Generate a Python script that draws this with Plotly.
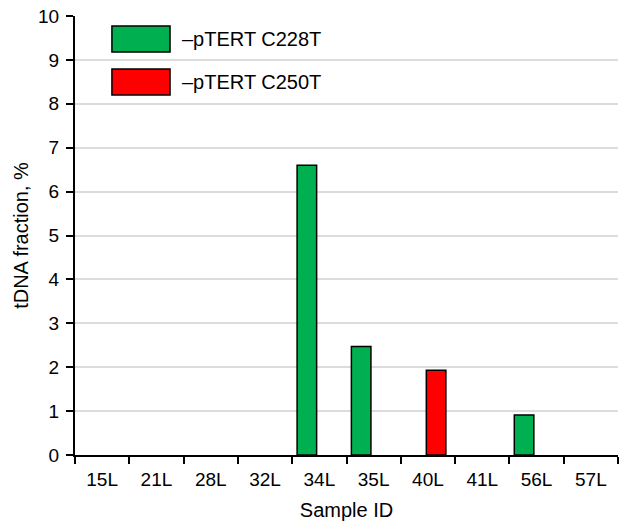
import plotly.graph_objects as go

samples = ["15L", "21L", "28L", "32L", "34L", "35L", "40L", "41L", "56L", "57L"]
c228t = [0, 0, 0, 0, 6.6, 2.47, 0, 0, 0.91, 0]
c250t = [0, 0, 0, 0, 0, 0, 1.93, 0, 0, 0]
series_names = ["\u2013pTERT C228T", "\u2013pTERT C250T"]
series_colors = ["#00b050", "#ff0000"]
y_ticks = list(range(0, 11))

FONT = "Liberation Sans, Arial, sans-serif"

def masked(vals):
    return [v if v > 0 else None for v in vals]

fig = go.Figure()
fig.add_trace(go.Bar(x=samples, y=masked(c228t), name=series_names[0],
                     marker=dict(color=series_colors[0], line=dict(color="black", width=1.5)),
                     width=0.36, offset=-0.41, showlegend=False))
fig.add_trace(go.Bar(x=samples, y=masked(c250t), name=series_names[1],
                     marker=dict(color=series_colors[1], line=dict(color="black", width=1.5)),
                     width=0.36, offset=-0.03, showlegend=False))

# custom legend with large swatches
shapes = []
annotations = []
for i, (nm, col) in enumerate(zip(series_names, series_colors)):
    y_top = 9.77 - i * 0.98
    y_bot = y_top - 0.59
    shapes.append(dict(type="rect", xref="paper", yref="y",
                       x0=0.068, x1=0.175, y0=y_bot, y1=y_top,
                       fillcolor=col, line=dict(color="black", width=1.5)))
    annotations.append(dict(xref="paper", yref="y", x=0.193, y=(y_top + y_bot) / 2,
                            text=nm, showarrow=False, xanchor="left", yanchor="middle",
                            font=dict(family=FONT, size=20, color="black")))

fig.update_layout(
    width=624, height=523,
    margin=dict(l=75, r=6, t=16, b=68, autoexpand=False),
    plot_bgcolor="white", paper_bgcolor="white",
    barmode="overlay",
    font=dict(family=FONT, size=19, color="black"),
    shapes=shapes, annotations=annotations,
    xaxis=dict(
        type="category", categoryorder="array", categoryarray=samples,
        range=[-0.5, 9.5], automargin=False,
        showline=True, linecolor="black", linewidth=2,
        ticks="outside", tickson="boundaries", ticklen=7, tickwidth=2, tickcolor="black",
        showgrid=False, zeroline=False, ticklabelstandoff=6,
        title=dict(text="Sample ID", font=dict(family=FONT, size=20), standoff=14),
        tickfont=dict(family=FONT, size=19),
    ),
    yaxis=dict(
        range=[0, 10], tickvals=y_ticks, automargin=False,
        showline=True, linecolor="black", linewidth=2,
        ticks="outside", ticklen=7, tickwidth=2, tickcolor="black",
        showgrid=True, gridcolor="#dcdcdc", gridwidth=1.5, zeroline=False,
        ticklabeloverflow="allow", ticklabelstandoff=3,
        title=dict(text="tDNA fraction, %", font=dict(family=FONT, size=20), standoff=4),
        tickfont=dict(family=FONT, size=19),
    ),
)

fig.write_html("out.html", config={"displayModeBar": False},
               post_script="document.body.style.margin='0';")
